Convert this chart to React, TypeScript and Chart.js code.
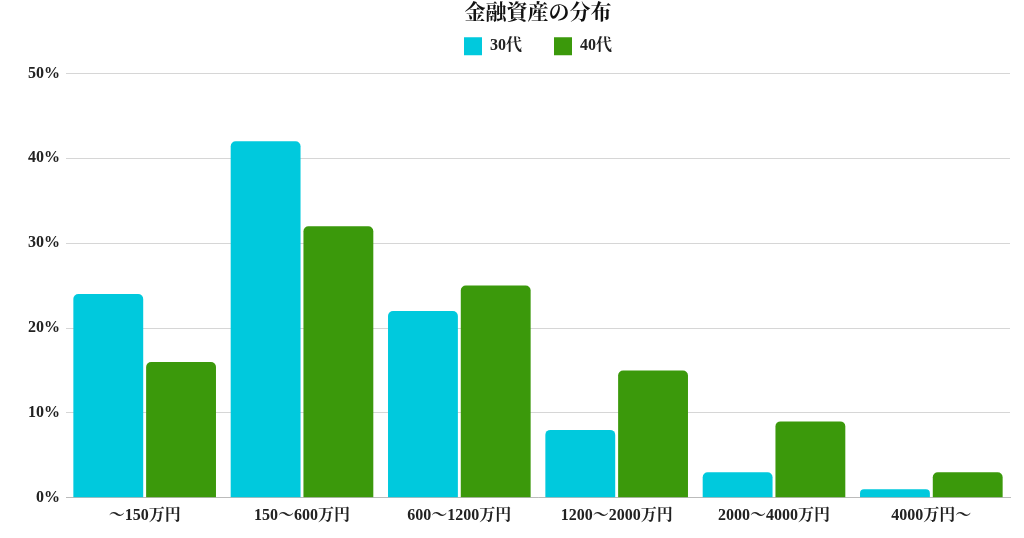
import React, { useEffect, useRef } from "react";
import { Chart, registerables } from "chart.js";

Chart.register(...registerables);

const categories = ["～150万円", "150～600万円", "600～1200万円", "1200～2000万円", "2000～4000万円", "4000万円～"];
const series30 = [24, 42, 22, 8, 3, 1];
const series40 = [16, 32, 25, 15, 9, 3];
const seriesNames = ["30代", "40代"];
const yTicks = [0, 10, 20, 30, 40, 50];

const FAMILY = "'Liberation Serif', 'Noto Serif CJK JP', 'Noto Serif JP', 'IPAexMincho', 'IPAMincho', 'Takao Mincho', serif";

export default function App() {
  const ref = useRef<HTMLCanvasElement | null>(null);
  useEffect(() => {
    if (!ref.current) return;
    const font = { family: FAMILY, weight: "bold" as const, size: 16 };
    const chart = new Chart(ref.current, {
      type: "bar",
      data: {
        labels: categories,
        datasets: [
          { label: seriesNames[0], data: series30, backgroundColor: "#00c9dd", borderRadius: 5 },
          { label: seriesNames[1], data: series40, backgroundColor: "#3b990b", borderRadius: 5 },
        ],
      },
      options: {
        animation: false,
        responsive: true,
        maintainAspectRatio: false,
        layout: { padding: { left: 22, right: 14, top: 0, bottom: 5 } },
        datasets: { bar: { categoryPercentage: 0.925, barPercentage: 0.96 } },
        plugins: {
          title: {
            display: true,
            fullSize: false,
            text: "金融資産の分布",
            color: "#111",
            font: { family: FAMILY, weight: "bold", size: 21 },
            padding: { top: 1, bottom: -21 },
          },
          subtitle: {
            display: true,
            fullSize: false,
            weight: 500,
            text: "",
            font: { size: 1 },
            padding: { top: 0, bottom: 7 },
          },
          legend: {
            fullSize: false,
            labels: { color: "#222", font, boxWidth: 18, boxHeight: 18, padding: 32 },
          },
          tooltip: { enabled: false },
        },
        scales: {
          x: {
            grid: { display: false, drawTicks: false },
            border: { color: "#bbb" },
            ticks: { color: "#222", font, padding: 8 },
          },
          y: {
            min: 0,
            max: 50,
            afterBuildTicks: (axis: any) => {
              axis.ticks = yTicks.map((v) => ({ value: v }));
            },
            grid: { color: "#d6d6d6", drawTicks: false },
            border: { display: false },
            ticks: { color: "#222", font, padding: 6, callback: (v: any) => v + "%" },
          },
        },
      },
    } as any);
    return () => chart.destroy();
  }, []);
  return (
    <div style={{ position: "absolute", left: 0, top: 0, width: 1024, height: 538 }}>
      <canvas ref={ref} />
    </div>
  );
}
